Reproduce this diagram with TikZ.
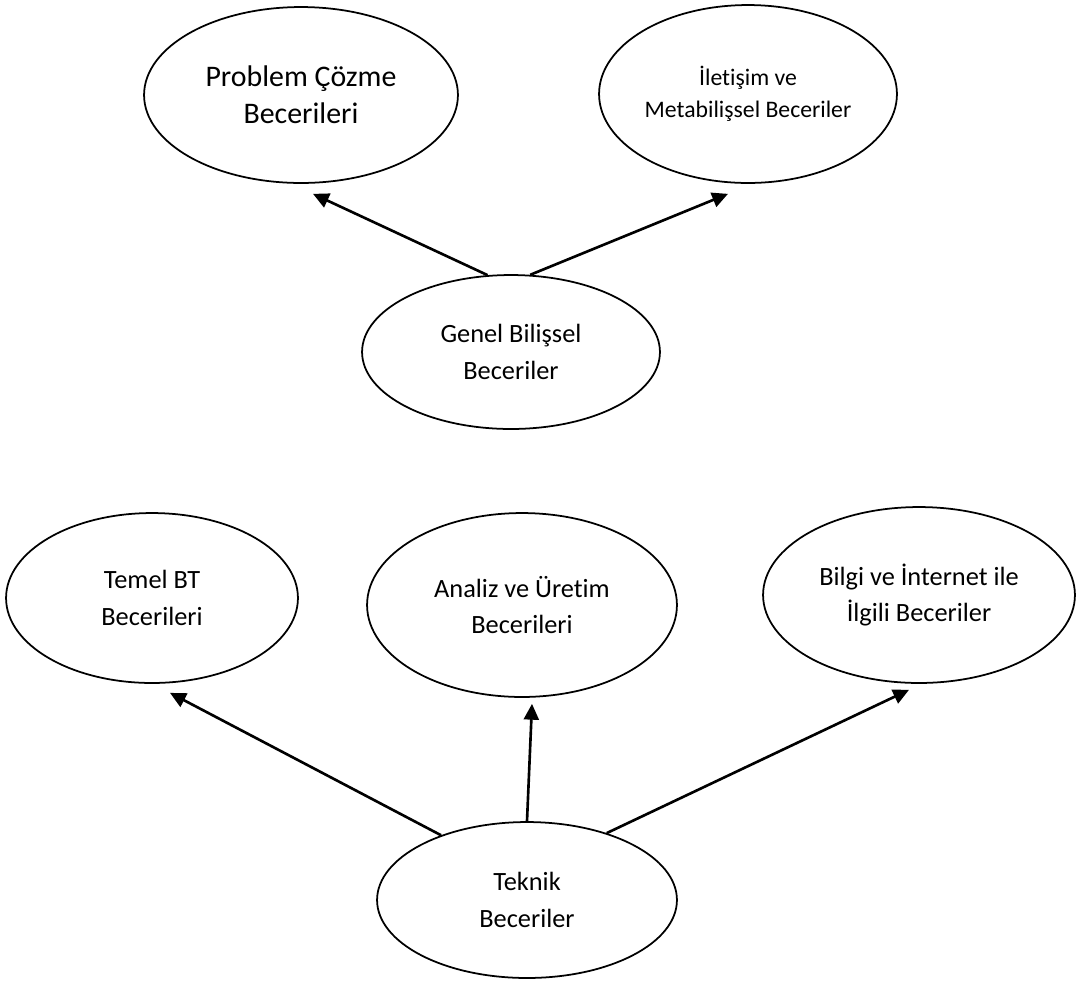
\documentclass[tikz,border=0pt]{standalone}
\usepackage{fontspec}
\setmainfont{Carlito}[Ligatures = CommonOff]
\usetikzlibrary{shapes.geometric, arrows.meta}

\tikzset{
	skill/.style = {ellipse, draw, line width = 1pt, align = center, inner sep = 0pt},
	radii/.style 2 args = {minimum width = {#1*0.04cm}, minimum height = {#2*0.04cm}},
	link/.style = {->, line width = 1.5pt}
}

\begin{document}
\begin{tikzpicture}[x = 0.02cm, y = -0.02cm, > = {Triangle[length = 9pt, width = 8.5pt]}]

	\useasboundingbox (0, 0) rectangle (1078, 985);

	% Cognitive skills

	\node [skill, radii = {157}{88}, font = \fontsize{17}{21}\selectfont] (prob) at (301, 95) {Problem Çözme\\Becerileri};
	\node [skill, radii = {149}{89}, font = \fontsize{13.5}{18}\selectfont] (ilet) at (748, 94) {İletişim ve\\Metabilişsel Beceriler};
	\node [skill, radii = {149}{77}, font = \fontsize{15}{21}\selectfont] (gen) at (511, 352) {Genel Bilişsel\\Beceriler};

	\draw [link] (gen.107) -- ([shift = {(12, 10)}] prob.south);
	\draw [link] (gen.76) -- ([shift = {(-20, 10)}] ilet.south);

	% Technical skills

	\node [skill, radii = {146}{85}, font = \fontsize{15}{21}\selectfont] (temel) at (152, 598) {Temel BT\\Becerileri};
	\node [skill, radii = {155}{92}, font = \fontsize{15}{21}\selectfont] (ana) at (522, 605) {Analiz ve Üretim\\Becerileri};
	\node [skill, radii = {156}{88}, font = \fontsize{15}{21}\selectfont] (bilgi) at (919, 595) {Bilgi ve İnternet ile\\İlgili Beceriler};
	\node [skill, radii = {150}{78}, font = \fontsize{15}{21}\selectfont] (tek) at (527, 900) {Teknik\\Beceriler};

	\draw [link] (tek.143) -- ([shift = {(18, 9)}] temel.south);
	\draw [link] (tek.north) -- ([shift = {(10, 6)}] ana.south);
	\draw [link] (tek.40) -- ([shift = {(-10, 6)}] bilgi.south);

\end{tikzpicture}
\end{document}
